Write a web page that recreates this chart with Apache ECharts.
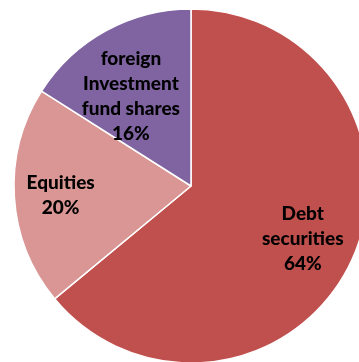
<!DOCTYPE html>
<html>
<head>
<meta charset="utf-8">
<script src="https://cdn.jsdelivr.net/npm/echarts@6/dist/echarts.min.js"></script>
<style>html,body{margin:0;padding:0;background:#fff;}#c{width:359px;height:362px;}</style>
</head>
<body>
<div id="c"></div>
<script>
var categories = ['Debt\nsecurities', 'Equities', 'foreign\nInvestment\nfund shares'];
var values = [64, 20, 16];
var colors = ['#C0504D', '#D99694', '#8064A2'];
var labelShift = [[29, 14], [-39, 4], [-16, -9]];

var chart = echarts.init(document.getElementById('c'), null, {renderer: 'canvas'});
chart.setOption({
  animation: false,
  series: [{
    type: 'pie',
    center: [191, 186],
    radius: 177,
    startAngle: 90,
    clockwise: true,
    data: categories.map(function (n, i) {
      return {name: n, value: values[i], itemStyle: {color: colors[i]}};
    }),
    itemStyle: {borderColor: '#fff', borderWidth: 1.5},
    label: {
      position: 'inside',
      formatter: function (p) { return p.name + '\n' + Math.round(p.percent) + '%'; },
      color: '#000',
      fontFamily: 'Lato',
      fontWeight: 900,
      fontSize: 19,
      lineHeight: 25
    },
    labelLine: {show: false},
    labelLayout: function (p) {
      var s = labelShift[p.dataIndex];
      return {dx: s[0], dy: s[1]};
    },
    emphasis: {disabled: true}
  }]
});
</script>
</body>
</html>
